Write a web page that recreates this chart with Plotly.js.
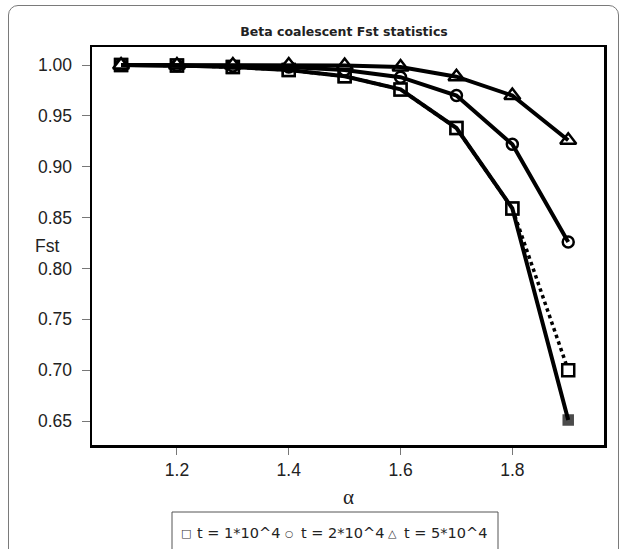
<!DOCTYPE html>
<html>
<head>
<meta charset="utf-8">
<script src="https://cdn.plot.ly/plotly-3.0.1.min.js"></script>
<style>
  html, body { margin: 0; padding: 0; background: #fff; }
  #frame { position: absolute; left: 8px; top: 5px; width: 611px; height: 620px;
           border: 1px solid #7a7a7a; border-radius: 10px; box-sizing: border-box; }
  #chart { position: absolute; left: 0; top: 0; width: 626px; height: 549px; }
</style>
</head>
<body>
<div id="frame"></div>
<div id="chart"></div>
<script>
// ---- data ----
const alpha = [1.1, 1.2, 1.3, 1.4, 1.5, 1.6, 1.7, 1.8, 1.9];
const fstT1 = [1.000, 0.9995, 0.998, 0.995, 0.989, 0.976, 0.938, 0.859, 0.651];      // solid, t = 1*10^4
const fstT1dot = [1.000, 0.9995, 0.998, 0.995, 0.989, 0.976, 0.938, 0.859, 0.700];   // dotted, t = 1*10^4
const fstT2 = [1.000, 0.9995, 0.999, 0.998, 0.995, 0.988, 0.970, 0.922, 0.826];      // t = 2*10^4
const fstT5 = [1.000, 1.000, 1.000, 1.000, 0.9995, 0.998, 0.9885, 0.970, 0.926];    // t = 5*10^4
const legendNames = ['t = 1*10^4', 't = 2*10^4', 't = 5*10^4'];
const legendGlyphs = ['□', '○', '△'];
const xTicks = [1.2, 1.4, 1.6, 1.8];
const yTicks = [0.65, 0.70, 0.75, 0.80, 0.85, 0.90, 0.95, 1.00];

// ---- geometry helpers (pixel -> paper) ----
const W = 626, H = 549, M = { l: 92, r: 22, t: 47, b: 104 };
const PW = W - M.l - M.r, PH = H - M.t - M.b;
const px = v => (v - M.l) / PW;
const py = v => (H - M.b - v) / PH;

const n = alpha.length;
const sqColors = alpha.map((_, i) => i === n - 1 ? '#000000' : 'white');
const sqSizes = alpha.map((_, i) => i === n - 1 ? 9 : 12);

const mk = (y, name, marker) => ({ x: alpha, y: y, mode: 'markers', name: name, showlegend: false, marker: marker });
const ln = (y, name, line) => ({ x: alpha, y: y, mode: 'lines', name: name, showlegend: false, line: line });

const traces = [
  // dotted line lowest
  ln(fstT1dot, legendNames[0] + ' (dotted)', { color: 'black', width: 3.5, dash: 'dot' }),
  // markers
  mk(fstT1dot, legendNames[0] + ' (dotted)', { symbol: 'square', size: 12, color: 'white', line: { color: 'black', width: 2.5 } }),
  mk(fstT1, legendNames[0], { symbol: 'square', size: sqSizes, color: sqColors, line: { color: 'black', width: 2.5 } }),
  mk(fstT2, legendNames[1], { symbol: 'circle', size: 11, color: 'white', line: { color: 'black', width: 2.5 } }),
  mk(fstT5, legendNames[2], { symbol: 'triangle-up', size: 14, color: 'white', line: { color: 'black', width: 2.5 } }),
  // solid lines on top
  ln(fstT1, legendNames[0], { color: 'black', width: 4 }),
  ln(fstT2, legendNames[1], { color: 'black', width: 4 }),
  ln(fstT5, legendNames[2], { color: 'black', width: 4 })
];

// legend drawn as a box + real text
const legGlyphX = [186, 289, 392.5];
const legTextX = [195.5, 299.5, 403];
const legY = 533;
const glyphSizes = [11, 9.5, 11];
const legendAnn = [];
legendNames.forEach((name, i) => {
  legendAnn.push({ text: legendGlyphs[i], xref: 'paper', yref: 'paper', x: px(legGlyphX[i]), y: py(legY),
    xanchor: 'center', yanchor: 'middle', showarrow: false,
    font: { family: 'DejaVu Sans, sans-serif', size: glyphSizes[i], color: '#333' } });
  legendAnn.push({ text: name, xref: 'paper', yref: 'paper', x: px(legTextX[i]), y: py(legY),
    xanchor: 'left', yanchor: 'middle', showarrow: false, borderpad: 0,
    font: { family: 'DejaVu Sans, sans-serif', size: 14.5, color: '#222' } });
});

const layout = {
  width: W, height: H,
  margin: M,
  paper_bgcolor: 'rgba(0,0,0,0)',
  plot_bgcolor: 'white',
  showlegend: false,
  font: { family: 'Liberation Sans, Arial, sans-serif', color: '#222', size: 17 },
  title: { text: '<b>Beta coalescent Fst statistics</b>', x: 344 / W, xanchor: 'center',
           y: 1 - 31.5 / H, yanchor: 'middle',
           font: { family: 'DejaVu Sans, sans-serif', size: 12.5, color: '#222' } },
  xaxis: {
    range: [1.048, 1.964], tickvals: xTicks, ticktext: xTicks.map(v => v.toFixed(1)),
    ticks: 'outside', ticklen: 7, tickwidth: 1, tickcolor: '#777',
    showgrid: false, zeroline: false,
    showline: true, linecolor: 'black', linewidth: 2.5, mirror: true,
    tickfont: { size: 17.5 }
  },
  yaxis: {
    range: [0.6264, 1.0177], tickvals: yTicks, ticktext: yTicks.map(v => v.toFixed(2)),
    ticks: 'outside', ticklen: 8, tickwidth: 1, tickcolor: '#777', ticklabelstandoff: 6,
    showgrid: false, zeroline: false,
    showline: true, linecolor: 'black', linewidth: 2.5, mirror: true,
    tickfont: { size: 17.5 }
  },
  shapes: [
    { type: 'rect', xref: 'paper', yref: 'paper', x0: px(172), x1: px(498), y0: py(512), y1: py(575),
      line: { color: '#555', width: 1 }, fillcolor: 'white' }
  ],
  annotations: [
    { text: 'Fst', xref: 'paper', yref: 'y', x: px(33), y: 0.822, xanchor: 'left', yanchor: 'middle',
      showarrow: false, font: { size: 17.5 } },
    { text: 'α', xref: 'paper', yref: 'paper', x: px(348), y: py(497), xanchor: 'center', yanchor: 'middle',
      showarrow: false, font: { family: 'Liberation Serif, serif', size: 21 } }
  ].concat(legendAnn)
};

Plotly.newPlot('chart', traces, layout, { displayModeBar: false, staticPlot: true });
</script>
</body>
</html>
